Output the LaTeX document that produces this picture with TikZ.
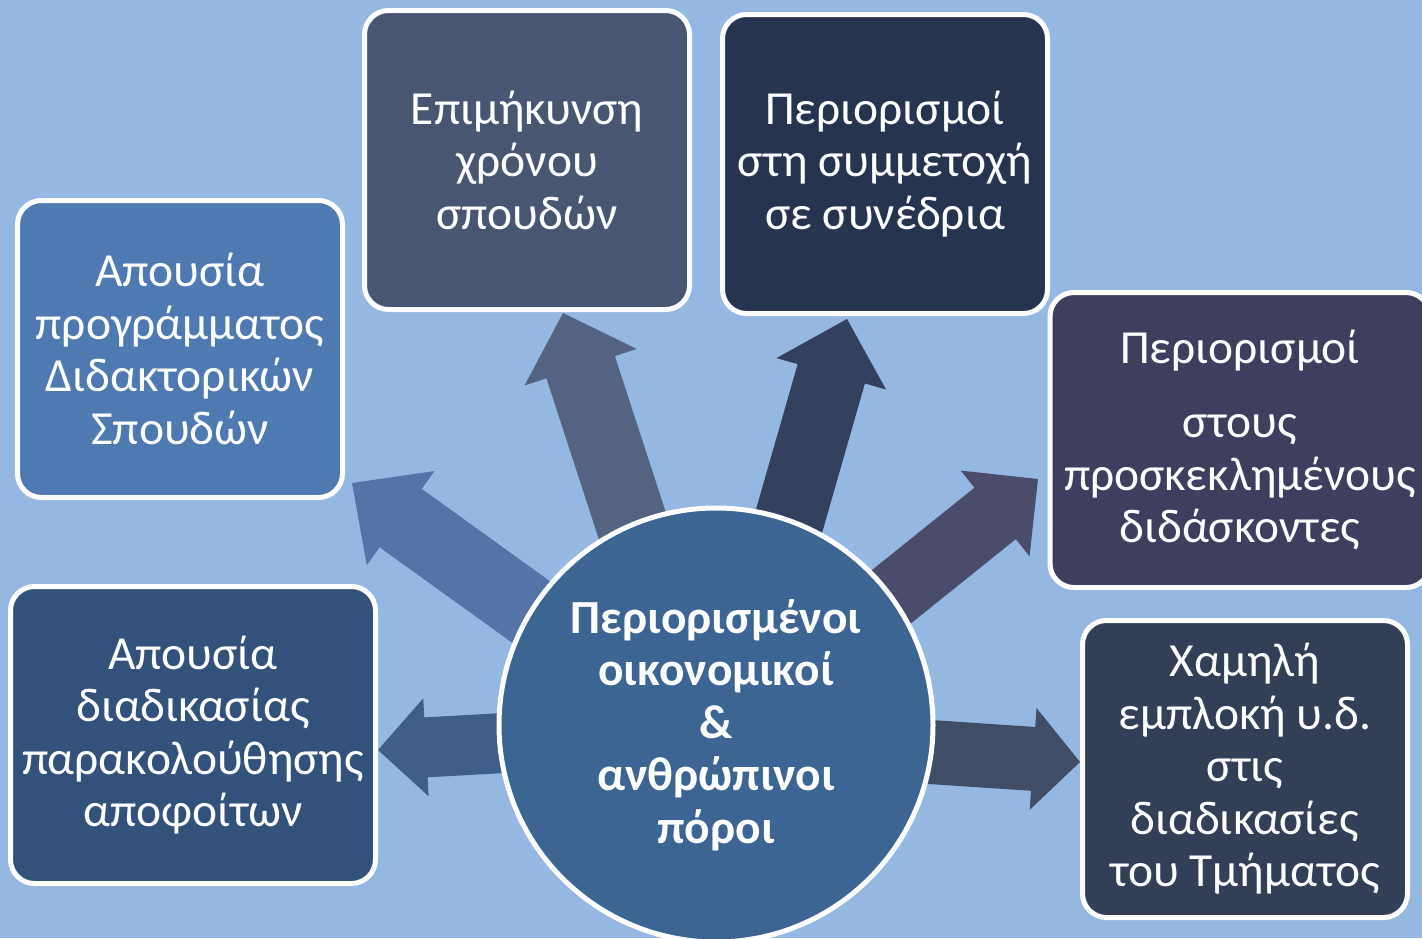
\documentclass[tikz,border=0pt]{standalone}
\usepackage{fontspec}
\setmainfont{Carlito}
\usetikzlibrary{calc}
\definecolor{bg}{HTML}{95B8E3}
\definecolor{boxA}{HTML}{4E79B1}
\definecolor{boxB}{HTML}{495672}
\definecolor{boxC}{HTML}{263450}
\definecolor{boxD}{HTML}{3E3E5E}
\definecolor{boxE}{HTML}{333F56}
\definecolor{boxF}{HTML}{33527B}
\definecolor{circ}{HTML}{3C6594}
\definecolor{arA}{HTML}{5473A7}
\definecolor{arB}{HTML}{546381}
\definecolor{arC}{HTML}{33415E}
\definecolor{arD}{HTML}{4B4B6B}
\definecolor{arE}{HTML}{3E5D88}
\definecolor{arF}{HTML}{3F4D66}
\newcommand{\blockarrow}[6]{%
  \coordinate (hb) at ($(#2)!#5!(#1)$);
  \fill[#6] ($(#1)!#3!90:(#2)$) -- ($(hb)!#3!90:(#2)$) -- ($(hb)!#4!90:(#2)$) -- (#2)
    -- ($(hb)!#4!-90:(#2)$) -- ($(hb)!#3!-90:(#2)$) -- ($(#1)!#3!-90:(#2)$) -- cycle;
}
\tikzset{
  box/.style={draw=white, line width=5pt, rounded corners=24pt, text=white,
    align=center, inner sep=0pt, font=\fontsize{47.5}{52.5}\selectfont},
  hub/.style={circle, draw=white, line width=5pt, fill=circ, text=white,
    align=center, inner sep=0pt, font=\fontsize{47.5}{52.5}\selectfont\bfseries}
}
\begin{document}
\begin{tikzpicture}[x=1pt,y=-1pt]
\useasboundingbox (0,0) rectangle (1422,938);
\clip (0,0) rectangle (1422,938);
\fill[bg] (0,0) rectangle (1422,938);
% arrow coordinates
\coordinate (s1) at (570,640); \coordinate (t1) at (352,483);
\coordinate (s2) at (650,580); \coordinate (t2) at (563,313);
\coordinate (s3) at (775,570); \coordinate (t3) at (847,319);
\coordinate (s4) at (850,630); \coordinate (t4) at (1038,479);
\coordinate (s5) at (540,741); \coordinate (t5) at (378,750);
\coordinate (s6) at (900,750); \coordinate (t6) at (1080,762);
\blockarrow{s1}{t1}{36pt}{58pt}{60pt}{arA}
\blockarrow{s2}{t2}{36pt}{59pt}{57pt}{arB}
\blockarrow{s3}{t3}{35pt}{57pt}{57pt}{arC}
\blockarrow{s4}{t4}{33pt}{55pt}{55pt}{arD}
\blockarrow{s5}{t5}{30pt}{49pt}{48pt}{arE}
\blockarrow{s6}{t6}{32pt}{51pt}{47pt}{arF}
% hub
\node[hub, minimum size=434pt] (hub) at (716,725)
  {Περιορισμένοι\\οικονομικοί\\\&\\ανθρώπινοι\\πόροι};
% boxes
\node[box, fill=boxA, minimum width=325pt, minimum height=297pt] (b1) at (180,349)
  {Απουσία\\προγράμματος\\Διδακτορικών\\Σπουδών};
\node[box, fill=boxB, minimum width=325pt, minimum height=299pt] (b2) at (527,160)
  {Επιμήκυνση\\χρόνου\\σπουδών};
\node[box, fill=boxC, minimum width=325pt, minimum height=299pt] (b3) at (885,164)
  {Περιορισμοί\\στη συμμετοχή\\σε συνέδρια};
\node[box, fill=boxD, minimum width=380pt, minimum height=295pt] (b4) at (1240,440)
  {Περιορισμοί\\[22pt]στους\\προσκεκλημένους\\διδάσκοντες};
\node[box, fill=boxE, minimum width=325pt, minimum height=297pt] (b5) at (1245,769)
  {Χαμηλή\\εμπλοκή υ.δ.\\στις\\διαδικασίες\\του Τμήματος};
\node[box, fill=boxF, minimum width=365pt, minimum height=297pt] (b6) at (193,735)
  {Απουσία\\διαδικασίας\\παρακολούθησης\\αποφοίτων};
\end{tikzpicture}
\end{document}
